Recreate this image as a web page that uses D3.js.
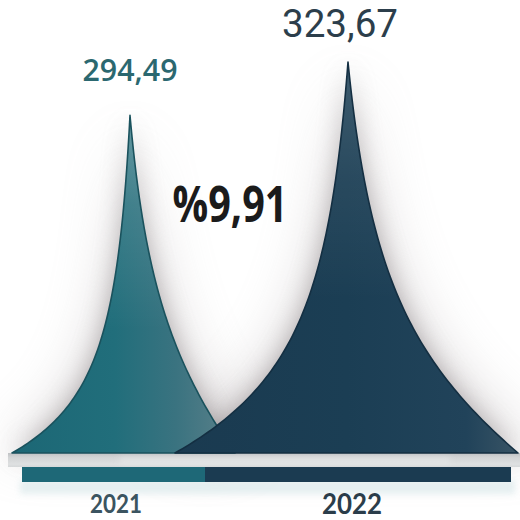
<!DOCTYPE html>
<html>
<head>
<meta charset="utf-8">
<script src="https://cdn.jsdelivr.net/npm/d3@7"></script>
<style>
  html, body { margin: 0; padding: 0; background: #ffffff; }
  svg { display: block; }
</style>
</head>
<body>
<svg id="chart" width="520" height="520"></svg>
<script>
// Yearly totals drawn as two spiked peaks
const years = ["2021", "2022"];
const values = [294.49, 323.67];
const valueLabels = ["294,49", "323,67"];
const changeLabel = "%9,91";

const width = 520, height = 520;
const baseY = 453;

const svg = d3.select("#chart");

// peak height scale and peak centres
const y = d3.scaleLinear().domain([110, 323.67]).range([baseY, 62]);
const x = d3.scalePoint().domain(years).range([130, 348]);

// flank profile for each peak: half-width w, tip sharpness a, base roundness p
const flanks = [
  { left: { w: 118, a: 18, p: 1.5 }, right: { w: 105, a: 30, p: 2.0 } },
  { left: { w: 173, a: 30, p: 1.7 }, right: { w: 170, a: 39, p: 2.0 } }
];

const profile = (d, f) => (f.a / (d + f.a)) * (1 - Math.pow(d / f.w, f.p));

function peakPoints(i) {
  const cx = x(years[i]);
  const h = baseY - y(values[i]);
  const pts = [];
  const n = 90;
  for (let k = n; k >= 0; k--) {
    const t = k / n, d = flanks[i].left.w * t * t;
    pts.push([cx - d, baseY - h * profile(d, flanks[i].left)]);
  }
  for (let k = 1; k <= n; k++) {
    const t = k / n, d = flanks[i].right.w * t * t;
    pts.push([cx + d, baseY - h * profile(d, flanks[i].right)]);
  }
  return pts;
}

const line = d3.line().curve(d3.curveLinear);

const defs = svg.append("defs");

const blur = defs.append("filter").attr("id", "haze")
  .attr("x", "-30%").attr("y", "-30%").attr("width", "160%").attr("height", "160%");
blur.append("feGaussianBlur").attr("stdDeviation", 12);

const wideBlur = defs.append("filter").attr("id", "wideHaze")
  .attr("x", "-50%").attr("y", "-50%").attr("width", "200%").attr("height", "200%");
wideBlur.append("feGaussianBlur").attr("stdDeviation", 26);

const softBlur = defs.append("filter").attr("id", "soft")
  .attr("x", "-10%").attr("y", "-100%").attr("width", "120%").attr("height", "300%");
softBlur.append("feGaussianBlur").attr("stdDeviation", 3);

function linGrad(id, x1, y1, x2, y2, stops) {
  const g = defs.append("linearGradient").attr("id", id)
    .attr("gradientUnits", "userSpaceOnUse")
    .attr("x1", x1).attr("y1", y1).attr("x2", x2).attr("y2", y2);
  stops.forEach(s => g.append("stop").attr("offset", s[0]).attr("stop-color", s[1])
    .attr("stop-opacity", s[2] === undefined ? 1 : s[2]));
  return g;
}

linGrad("fill2021", 12, 0, 240, 0, [
  [0, "#1c6775"], [0.45, "#216e7b"], [0.72, "#3a7380"], [1, "#5f828b"]
]);
linGrad("fill2022", 175, 0, 518, 0, [
  [0, "#1a3a50"], [0.5, "#1b3e54"], [0.85, "#21435a"], [1, "#395465"]
]);
linGrad("tipLight", 0, 100, 0, 330, [
  [0, "#ffffff", 0.32], [0.45, "#ffffff", 0.12], [1, "#ffffff", 0]
]);
linGrad("tipLight2", 0, 60, 0, 300, [
  [0, "#ffffff", 0.16], [0.5, "#ffffff", 0.06], [1, "#ffffff", 0]
]);
linGrad("strip", 0, 453, 0, 467, [
  [0, "#bfc1c3"], [0.3, "#d2d4d5"], [0.8, "#dee0e1"], [1, "#d5d8d9"]
]);

const fills = ["url(#fill2021)", "url(#fill2022)"];
const lights = ["url(#tipLight)", "url(#tipLight2)"];
const strokes = ["#1a525d", "#142f42"];

// soft grey glow around both peaks
const glow = svg.append("g");
years.forEach((yr, i) => {
  glow.append("path")
    .attr("d", line(peakPoints(i)) + "Z")
    .attr("fill", "#aaa3a5")
    .attr("opacity", 0.45)
    .attr("filter", "url(#wideHaze)")
    .attr("transform", "translate(" + x(yr) + ",0) scale(1.12,1) translate(" + (-x(yr)) + ",0)");
});
years.forEach((yr, i) => {
  glow.append("path")
    .attr("d", line(peakPoints(i)) + "Z")
    .attr("fill", "#867f81")
    .attr("opacity", 0.6)
    .attr("filter", "url(#haze)");
});

// light band under the peaks
svg.append("rect")
  .attr("x", 8).attr("y", baseY).attr("width", 512).attr("height", 14)
  .attr("fill", "url(#strip)");
svg.append("rect")
  .attr("x", 120).attr("y", baseY + 5).attr("width", 330).attr("height", 5)
  .attr("fill", "#eceeee").attr("opacity", 0.7).attr("filter", "url(#soft)");

// cool haze under the bar
svg.append("rect")
  .attr("x", 20).attr("y", 480).attr("width", 495).attr("height", 14)
  .attr("fill", "#d6e6e8").attr("opacity", 0.6).attr("filter", "url(#soft)");

// the peaks
years.forEach((yr, i) => {
  const d = line(peakPoints(i)) + "Z";
  svg.append("path").attr("d", d).attr("fill", fills[i]);
  svg.append("path").attr("d", d).attr("fill", lights[i]);
  svg.append("path").attr("d", d).attr("fill", "none")
    .attr("stroke", strokes[i]).attr("stroke-width", 1.6)
    .attr("stroke-linejoin", "round");
});

// year bar beneath the peaks
const barEdges = [22, 205, 511];
const barColors = ["#1e6877", "#1b3b51"];
years.forEach((yr, i) => {
  svg.append("rect")
    .attr("x", barEdges[i]).attr("y", 467)
    .attr("width", barEdges[i + 1] - barEdges[i]).attr("height", 15)
    .attr("fill", barColors[i]);
});

// value labels above the tips
const valueStyle = [
  { dx: 0, dy: -34, size: 31, weight: 600, color: "#2b6870", len: 95, font: "'Open Sans', sans-serif" },
  { dx: -8, dy: -25.5, size: 38, weight: 400, color: "#2c3e4b", len: 116, font: "Roboto, sans-serif" }
];
years.forEach((yr, i) => {
  const s = valueStyle[i];
  svg.append("text")
    .attr("x", x(yr) + s.dx).attr("y", y(values[i]) + s.dy)
    .attr("text-anchor", "middle")
    .attr("font-family", s.font)
    .attr("font-size", s.size).attr("font-weight", s.weight)
    .attr("fill", s.color)
    .attr("textLength", s.len).attr("lengthAdjust", "spacingAndGlyphs")
    .text(valueLabels[i]);
});

// growth between the two years
svg.append("text")
  .attr("x", 230).attr("y", 222)
  .attr("text-anchor", "middle")
  .attr("font-family", "'Open Sans', sans-serif")
  .attr("font-size", 51).attr("font-weight", 700)
  .attr("fill", "#1b1b1b")
  .attr("textLength", 115).attr("lengthAdjust", "spacingAndGlyphs")
  .text(changeLabel);

// year labels
const yearStyle = [
  { cx: 116, by: 512.5, size: 27, color: "#3b5460", len: 52 },
  { cx: 352, by: 513.5, size: 28, color: "#2b3d4a", len: 60 }
];
years.forEach((yr, i) => {
  const s = yearStyle[i];
  svg.append("text")
    .attr("x", s.cx).attr("y", s.by)
    .attr("text-anchor", "middle")
    .attr("font-family", "Lato, sans-serif")
    .attr("font-size", s.size).attr("font-weight", 700)
    .attr("fill", s.color)
    .attr("textLength", s.len).attr("lengthAdjust", "spacingAndGlyphs")
    .text(yr);
});
</script>
</body>
</html>
